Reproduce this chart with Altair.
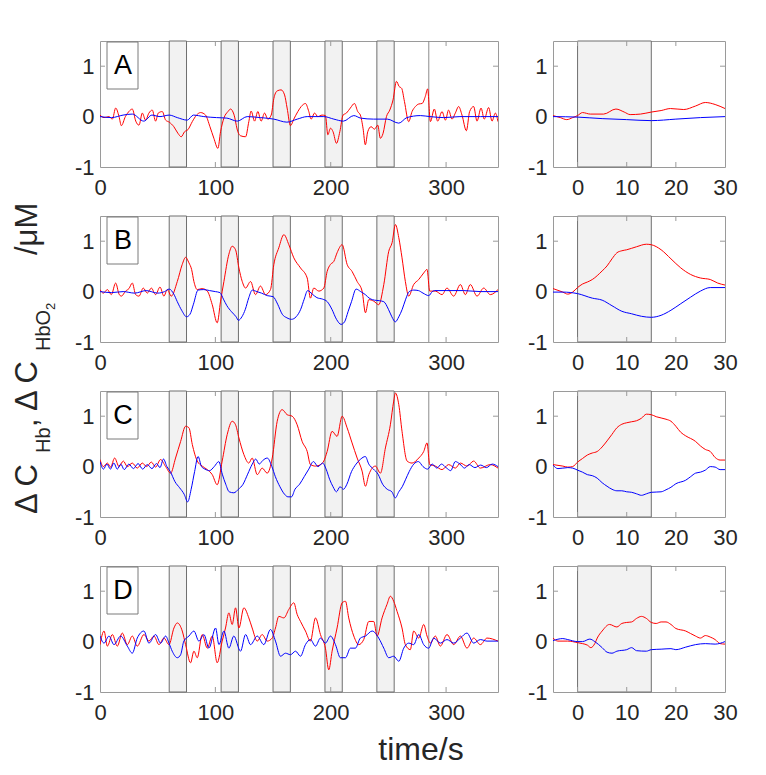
import altair as alt
import pandas as pd

FONT = "Liberation Sans"
LW, RW, H = 398, 172, 126

# ---------------- stimulus blocks / ticks ----------------
block_start = [60, 105, 150, 195, 240]
block_end = [75, 120, 165, 210, 255]
end_line = [285]
avg_block_start = [0]
avg_block_end = [15]
left_xticks = [0, 100, 200, 300]
right_xticks = [0, 10, 20, 30]
yticks = [-1, 0, 1]
left_inner_xticks = [100, 200, 300]
right_inner_xticks = [0, 10, 20]
inner_yticks = [1]
letters = ["A", "B", "C", "D"]

# ---------------- left panels: full time course ----------------
tA_r = [0,3.5,7.8,10.7,13.6,16.5,18.5,22,25,28,31,33.8,36.7,39.5,42.4,45.3,48.2,50.5,54,56.9,
        60,64,67.5,70.4,73.3,76.2,80,83.7,87.2,91.5,95.3,98.7,102.2,104.5,107.4,110.9,113.2,116,119.5,121.8,
        126.2,129,131,134,136.8,139.7,142.6,145.5,148.4,150.7,153.6,157,160,162.2,165.1,168,171.5,174.4,178.1,181,
        183,186,188.8,192.5,195.4,197.5,199.8,202,205,207.9,210.7,213.6,217,220.6,223.4,225.7,228,230,232.1,235,
        237.9,240.8,243,245.4,248.3,251.2,254,257,259.2,261.5,263.9,267.6,270.5,273.4,276.3,279.2,282,284,286.4,289.8,
        292.7,296.5,299.4,302.2,305.1,308,310.9,313.8,317.6,320.4,323.9,326.8,330.3,333.1,336.9,339.8,342.7,345]
vA_r = [0.03,-0.02,0,-0.05,0.17,0,-0.18,0,0.1,0.15,-0.09,-0.17,0.07,-0.07,0.07,0.13,-0.09,0.07,0.1,-0.07,
        -0.11,-0.2,-0.33,-0.4,-0.3,-0.26,-0.1,0.03,0.08,0.03,-0.2,-0.43,-0.63,-0.3,-0.03,0.1,0.15,0.05,-0.3,-0.38,
        -0.4,-0.1,0.11,-0.09,0.1,-0.09,0.07,-0.05,0.03,0.36,0.51,0.53,0.43,0.17,-0.18,-0.05,0.1,0.2,0.26,0.1,
        -0.05,0.07,0,0.03,0.02,-0.36,-0.23,-0.3,-0.53,-0.3,0.03,0.07,0.17,0.26,0.1,0.03,-0.23,-0.56,-0.3,-0.2,
        -0.25,-0.17,-0.43,-0.33,0,0.13,0.33,0.7,0.6,0.56,0.3,-0.1,0.1,0.2,0.25,0.26,0.4,0.55,-0.1,0.15,
        -0.09,0.1,-0.07,0.13,-0.05,0.07,0.2,0.03,-0.28,0.1,0.2,-0.09,0.17,-0.05,0.18,-0.09,0.07,-0.1]
tA_b = [0,10,20,28,38,45,52,60,67,75.6,81,90,101,110,119,127.6,139,150.7,162,171,179.6,194,202.7,211,220,226,
        237,249,259,266,277.7,286,298,312,330,345]
vA_b = [0,-0.02,0.03,0.05,-0.09,0.03,0,0.03,-0.02,-0.07,0.03,0,-0.02,-0.03,-0.09,0,-0.02,-0.05,-0.11,-0.05,0,0,
        -0.05,-0.09,0.02,-0.03,-0.05,-0.05,-0.13,-0.02,0.02,0,-0.02,0,0,0]

tB_r = [0,2.9,6.4,9.8,13.6,16.5,18.5,22.2,25.1,28,30.9,33.8,37.5,41,44.5,48.2,52,55.4,58.3,61.8,
        67,71.3,74.2,77.1,79.4,81.4,84.3,88.6,93,97.3,101.6,104.5,107.4,111.7,114.6,117.5,120.4,123.3,126.2,130.5,
        134.8,139.1,143.5,147.8,150.7,155,159.4,163.7,168,173.8,179.6,182.4,185.3,189.7,194,196.9,199.8,202.7,205.5,209.9,
        214.2,218.5,222.9,227.2,230.1,233,237.3,241.6,246,250.3,253.2,256.1,259,261.8,264.7,267.6,271.9,276.3,280.6,283.5,
        285.8,290.7,296.5,300.8,306.6,312.4,316.7,321,326.8,332.6,338.3,345]
vB_r = [0.04,-0.03,0.04,-0.06,0.17,-0.05,-0.09,0.01,0.06,0.17,-0.06,-0.09,0.07,-0.03,0.07,-0.06,0.09,-0.09,0.04,-0.09,
        0.2,0.54,0.68,0.57,0.44,0.2,0.04,0.06,0.01,-0.26,-0.62,-0.19,0.2,0.74,0.9,0.83,0.47,0.2,0.07,0.2,
        -0.06,0.11,-0.06,0.04,0.54,0.87,1.13,0.93,0.67,0.47,0.27,-0.13,0.07,0.01,0.07,0.4,0.54,0.6,0.77,0.93,
        0.54,0.4,0.2,0.01,-0.42,-0.16,-0.19,-0.26,0.14,0.8,0.97,1.33,1.07,0.67,0.2,-0.09,0.14,0.24,0.37,0.44,
        0.01,0.01,-0.06,0.07,-0.09,0.14,-0.06,0.14,-0.09,0.07,-0.06,0.04]
tB_b = [0,10,20,30,40,50,56,60,64,67,71,75,78,81,85,90,95,100,104,107,110,114,118,120,123,126,129,132,136,140,
        145,150,154,158,162,166,170,174,177,180,184,188,193,197,201,205,209,212,215,218,222,226,230,234,238,242,
        246,250,253,256,259,262,265,268,272,276,280,285,288,290,300,315,330,345]
vB_b = [0.0,-0.02,0.0,-0.03,0.02,-0.03,0.0,0.05,-0.05,-0.2,-0.38,-0.5,-0.45,-0.25,0.03,0.04,0.02,0.0,-0.02,-0.15,
        -0.28,-0.4,-0.5,-0.57,-0.5,-0.35,-0.12,0.03,0.0,-0.03,-0.08,-0.1,-0.25,-0.45,-0.52,-0.55,-0.5,-0.35,-0.15,0.02,
        -0.05,-0.12,-0.15,-0.2,-0.35,-0.55,-0.65,-0.6,-0.4,-0.2,0.05,0.0,-0.06,-0.14,-0.17,-0.18,-0.2,-0.35,-0.5,-0.6,
        -0.5,-0.35,-0.15,0.0,0.03,0.02,-0.03,-0.08,0.0,0.02,0.02,0.02,0.0,0.0]

tC_r = [0,2.9,6.4,9.2,12.7,16.5,20.2,23.7,28,32.3,36.7,40.4,44.5,48.2,52.5,56.9,61.2,65.5,69.9,74.2,
        77.1,80,84.3,88.6,93,97.3,101.6,105.9,110.3,114.6,117.5,120.4,124.7,129,131.9,136.3,140.6,144.9,149.3,153.6,
        157.9,162.2,166.6,170.9,175.2,179.6,182.4,186.8,191.1,194,196.9,201.2,205.5,209.9,214.2,218.5,222.9,227.2,230.1,233,
        238.7,243.1,247.4,251.7,254.6,256.1,259,261.8,266.2,270.5,276.3,280.6,283.5,285.8,290.7,296.5,302.2,308,312.4,318.1,
        323.9,329.7,338.3,345]
vC_r = [0.14,0.0,0.07,-0.01,0.17,0.0,0.11,0.0,0.07,-0.03,0.07,0.0,0.09,-0.01,0.14,0.0,-0.13,0.17,0.5,0.8,
        0.77,0.44,0.11,0.01,-0.06,-0.16,-0.36,0.11,0.64,0.9,0.83,0.57,0.24,0.07,0.17,-0.16,-0.03,-0.13,0.17,0.9,
        1.13,1.03,1.0,0.83,0.5,0.3,0.04,0.01,0.04,0.11,0.3,0.7,0.6,1.0,0.77,0.47,0.17,-0.09,-0.39,-0.16,
        0.01,-0.13,0.37,0.83,1.3,1.46,1.23,0.7,0.11,0.07,0.17,0.3,0.47,0.04,0.01,-0.06,0.04,-0.03,0.07,0.01,
        0.11,-0.03,0.04,-0.03]
tC_b = [0,3,6,9,12,15,18,21,25,29,33,37,41,45,49,52,55,58,61,65,69,73,76,79,82,85,88,91,95,99,
        103,106,109,112,116,120,124,128,132,135,138,141,145,149,152,156,160,163,166,169,
        173,177,181,185,189,193,196,199,202,205,208,211,214,218,222,226,230,233,237,241,
        245,249,253,256,259,262,265,268,272,276,280,284,288,292,296,300,304,308,312,316,320,325,330,335,340,345]
vC_b = [0.1,-0.05,0.05,-0.05,0.07,-0.05,0.05,-0.06,0.05,-0.04,0.06,-0.05,0.04,-0.04,0.06,-0.02,0.15,0.0,-0.1,-0.3,
        -0.42,-0.55,-0.7,-0.45,-0.1,0.2,0.0,-0.05,-0.08,0.0,0.1,-0.15,-0.35,-0.5,-0.52,-0.45,-0.35,-0.15,0.05,0.15,
        0.05,0.12,0.17,0.0,-0.2,-0.4,-0.55,-0.6,-0.6,-0.45,-0.35,-0.2,-0.05,0.1,0.0,0.07,-0.05,-0.25,-0.4,-0.5,
        -0.4,-0.45,-0.35,-0.1,0.05,0.15,0.2,0.05,-0.05,-0.15,-0.35,-0.45,-0.5,-0.62,-0.5,-0.4,-0.25,-0.1,0.05,0.1,
        0.0,-0.05,0.05,-0.03,0.05,-0.02,-0.08,0.1,0.05,-0.03,0.04,-0.02,0.03,-0.02,0.05,0.0]

tD_r = [0,3.5,6.4,10.7,15,19.3,23.7,28,32.3,38.1,42.4,46.8,51.1,55.4,59.8,64.1,67,71.3,74.2,78.5,
        81.4,84.3,88.6,93,97.3,101.6,105.9,108.8,111.7,114.6,117.5,120.4,124.7,129,131.9,136.3,140.6,144.9,149.3,152.1,
        155,159.4,163.7,168,170.9,173.8,178.1,182.4,186.8,191.1,195.4,198.3,201.2,205.5,209.9,212.8,215.6,220,224.3,228.6,
        233,237.3,240.2,244.5,248.8,251.7,254.6,257.5,261.8,264.7,269,271.9,276.3,280.6,283.5,286.4,290.7,295,300.8,306.6,
        312.4,318.1,323.9,329.7,335.5,345]
vD_r = [-0.06,0.21,-0.09,0.14,-0.09,0.17,-0.06,0.11,-0.09,0.14,0.01,0.11,-0.06,0.07,-0.06,0.27,0.37,0.21,-0.06,-0.42,
        -0.19,-0.32,0.14,-0.13,0.11,-0.42,0.01,0.27,0.57,0.34,0.67,0.27,0.67,0.47,0.27,0.01,0.14,0.01,0.07,0.27,
        0.5,0.47,0.64,0.77,0.54,0.4,0.21,0.01,0.47,0.14,-0.13,-0.56,-0.19,0.27,0.77,0.8,0.47,0.11,-0.06,0.04,
        0.4,0.4,0.11,0.47,0.74,0.9,0.8,0.6,0.27,-0.06,-0.16,0.21,0.07,0.34,0.11,-0.03,0.11,-0.09,0.14,-0.06,
        0.11,-0.13,0.07,-0.06,0.07,0.01]
tD_b = [0,3.5,7.8,12.1,17.9,23.7,28,32.3,38.1,42.4,48.2,52.5,56.9,59.8,62.6,67,69.9,72.7,77.1,81.4,
        85.7,90.1,94.4,100.2,103.1,107.4,111.7,116,121.8,126.2,130.5,136.3,142,147.8,152.1,156.5,160.8,165.1,169.5,173.8,
        178.1,182.4,186.8,191.1,195.4,199.8,204.1,208.4,212.8,217.1,221.4,225.7,230.1,235.9,241.6,246,250.3,254.6,259,263.3,
        267.6,271.9,276.3,280.6,284.9,289.3,295,300.8,306.6,312.4,318.1,323.9,329.7,335.5,345]
vD_b = [0.11,-0.03,0.11,-0.06,0.11,-0.09,-0.23,0.07,0.21,-0.03,0.14,-0.03,0.11,-0.03,-0.19,-0.32,-0.26,0.01,0.11,0.21,
        0.01,0.14,-0.13,0.27,-0.06,0.21,-0.13,0.11,-0.19,0.14,-0.06,0.11,-0.06,0.24,0.01,-0.29,-0.23,-0.26,-0.19,-0.29,
        -0.06,0.04,-0.09,0.07,-0.03,0.11,-0.06,-0.32,-0.32,-0.13,-0.13,0.07,0.11,0.21,0.07,-0.13,-0.32,-0.29,-0.39,-0.13,
        -0.03,-0.06,0.14,-0.06,-0.13,0.07,-0.03,0.04,-0.03,0.07,0.17,-0.03,0.04,0.01,0.01]

# ---------------- right panels: block average ----------------
rA_tr = [-5,-3.5,-2.2,-1,0,1,2.6,5.3,7.8,9.5,10.7,12.8,15,17,18.9,21.6,24,26,28,30]
rA_vr = [0.02,-0.02,-0.06,-0.02,0.02,0.08,0.05,0.05,0.15,0.09,0.04,0.05,0.09,0.12,0.16,0.14,0.21,0.28,0.24,0.16]
rA_tb = [-5,0,5,10,15,20,25,30]
rA_vb = [0.0,-0.01,-0.04,-0.06,-0.08,-0.05,-0.02,0.0]

rB_tr = [-5,-3,-2,-1,0,1,2,3,5,6,7,8,9,10,12,14,15,17,19,21,23,25,27,28.5,30]
rB_vr = [0.06,-0.01,-0.05,-0.01,0.08,0.15,0.19,0.24,0.41,0.51,0.65,0.77,0.81,0.83,0.89,0.94,0.93,0.83,0.65,0.47,
         0.34,0.27,0.24,0.17,0.13]
rB_tb = [-5,-3,0,3,5,7,9,11,13,15,17,19,21,23,25,27,30]
rB_vb = [-0.01,-0.01,-0.04,-0.13,-0.17,-0.28,-0.39,-0.44,-0.49,-0.51,-0.47,-0.37,-0.24,-0.11,0.01,0.08,0.08]

rC_tr = [-5,-3,-2,-1,0,1,2,3,4,5,6,7,8,9,10,11,12,13,14,15,16,18,19,20,21,22,24,25,26,27,28,29,30]
rC_vr = [0.04,0.01,-0.01,0.0,0.09,0.16,0.23,0.27,0.3,0.39,0.51,0.64,0.77,0.84,0.87,0.89,0.91,0.96,1.04,1.03,
         0.99,0.94,0.9,0.8,0.68,0.61,0.5,0.41,0.34,0.3,0.18,0.13,0.13]
rC_tb = [-5,-4,-2,-1,0,1,2,3,4,5,6,7,8,9,10,11,12,13,14,15,17,18,19,20,22,23,24,25,26,27,28,29,30]
rC_vb = [0.03,-0.04,-0.02,-0.03,-0.07,-0.11,-0.16,-0.18,-0.23,-0.32,-0.39,-0.45,-0.48,-0.48,-0.5,-0.51,-0.54,-0.57,
         -0.54,-0.51,-0.5,-0.46,-0.41,-0.34,-0.27,-0.2,-0.13,-0.11,-0.07,0.0,-0.01,-0.06,-0.06]

rD_tr = [-5,-4,-2,0,1,2,2.7,3.5,4,5,6.5,8,9,10,11,12,13,14,15,16,17,18,19,20,22,23,24,25,26,27,28,29,30]
rD_vr = [0.07,0.01,0.01,-0.02,-0.04,-0.07,-0.12,-0.04,0.07,0.21,0.34,0.29,0.36,0.38,0.39,0.46,0.5,0.46,0.38,0.36,
         0.39,0.39,0.34,0.26,0.21,0.16,0.11,0.07,0.12,0.09,0.04,-0.04,-0.05]
rD_tb = [-5,-3,-2,0,1,2.5,3.5,5,6,7,8,10,11,12,14,15,17,19,20,22,24,26,28,30]
rD_vb = [0.02,0.06,0.04,0.0,0.0,0.05,0.0,-0.12,-0.21,-0.23,-0.19,-0.16,-0.12,-0.18,-0.19,-0.16,-0.15,-0.14,-0.16,
         -0.11,-0.06,-0.04,-0.05,0.0]

# axis label texts
ylabel_pieces = ["\u0394 C", "Hb", ",", "\u0394 C", "HbO", "2", "/\u03bcM"]
xlabel_text = "time/s"

RED, BLUE = "#ff0000", "#0000ff"
FRAME = "#9a9a9a"


def panel(tr, vr, tb, vb, domain, xvals, inner_x, sh_s, sh_e, width, vline, letter=None, extras=()):
    xs = alt.Scale(domain=domain, nice=False, zero=False)
    ys = alt.Scale(domain=[-1, 1.5], nice=False, zero=False)
    xax = alt.Axis(values=xvals, title=None, labelPadding=10, labelFlush=False, labelExpr="datum.value")
    yax = alt.Axis(values=yticks, title=None, labelPadding=6, labelFlush=False, labelExpr="datum.value")
    layers = []
    layers.append(
        alt.Chart(pd.DataFrame({"s": sh_s, "e": sh_e}))
        .mark_rect(fill="#f2f2f2", stroke="#6e6e6e", strokeWidth=1)
        .encode(x=alt.X("s:Q", scale=xs, axis=xax), x2="e:Q", y=alt.value(0), y2=alt.value(H))
    )
    if vline:
        layers.append(
            alt.Chart(pd.DataFrame({"t": vline}))
            .mark_rule(color="#8c8c8c", strokeWidth=1)
            .encode(x=alt.X("t:Q", scale=xs, axis=xax))
        )
    tick_df = pd.DataFrame({"k": inner_x})
    for y0, y1 in ((0, 5), (H - 5, H)):
        layers.append(
            alt.Chart(tick_df).mark_rule(color=FRAME, strokeWidth=1)
            .encode(x=alt.X("k:Q", scale=xs, axis=xax), y=alt.value(y0), y2=alt.value(y1))
        )
    ytick_df = pd.DataFrame({"k": inner_yticks})
    for x0, x1 in ((0, 5), (width - 5, width)):
        layers.append(
            alt.Chart(ytick_df).mark_rule(color=FRAME, strokeWidth=1)
            .encode(y=alt.Y("k:Q", scale=ys, axis=yax), x=alt.value(x0), x2=alt.value(x1))
        )
    for t, v, c in ((tr, vr, RED), (tb, vb, BLUE)):
        layers.append(
            alt.Chart(pd.DataFrame({"t": t, "v": v}))
            .mark_line(color=c, strokeWidth=1, interpolate="monotone", clip=True)
            .encode(x=alt.X("t:Q", scale=xs, axis=xax), y=alt.Y("v:Q", scale=ys, axis=yax))
        )
    if letter:
        layers.append(
            alt.Chart(pd.DataFrame({"l": [letter]}))
            .mark_rect(fill="white", stroke="#7a7a7a", strokeWidth=1)
            .encode(x=alt.value(7), x2=alt.value(38), y=alt.value(1), y2=alt.value(48))
        )
        layers.append(
            alt.Chart(pd.DataFrame({"l": [letter]}))
            .mark_text(font=FONT, fontSize=27, color="black", align="center", baseline="middle")
            .encode(x=alt.value(23), y=alt.value(25), text="l:N")
        )
    layers.extend(extras)
    return alt.layer(*layers).properties(width=width, height=H)


def label_piece(text, x, y, size, angle=270, align="left"):
    return (
        alt.Chart(pd.DataFrame({"s": [text]}))
        .mark_text(font=FONT, fontSize=size, color="#262626", align=align, baseline="alphabetic", angle=angle)
        .encode(x=alt.value(x), y=alt.value(y), text="s:N")
    )


MF, SF, SSF = 31, 20, 13
extras = [
    label_piece(ylabel_pieces[0], -63, 473, MF),
    label_piece(ylabel_pieces[1], -50, 412, SF),
    label_piece(ylabel_pieces[2], -63, 386, MF),
    label_piece(ylabel_pieces[3], -63, 370, MF),
    label_piece(ylabel_pieces[4], -50, 310, SF),
    label_piece(ylabel_pieces[5], -45, 269, SSF),
    label_piece(ylabel_pieces[6], -63, 214, MF),
    label_piece(xlabel_text, 321, 719, 32, angle=0, align="center"),
]

left_data = [(tA_r, vA_r, tA_b, vA_b), (tB_r, vB_r, tB_b, vB_b), (tC_r, vC_r, tC_b, vC_b), (tD_r, vD_r, tD_b, vD_b)]
right_data = [(rA_tr, rA_vr, rA_tb, rA_vb), (rB_tr, rB_vr, rB_tb, rB_vb), (rC_tr, rC_vr, rC_tb, rC_vb),
              (rD_tr, rD_vr, rD_tb, rD_vb)]

panels = []
for i in range(4):
    panels.append(panel(*left_data[i], [0, 345], left_xticks, left_inner_xticks, block_start, block_end, LW,
                        end_line, letters[i], extras if i == 0 else ()))
    panels.append(panel(*right_data[i], [-5, 30], right_xticks, right_inner_xticks, avg_block_start, avg_block_end,
                        RW, None))

chart = (
    alt.concat(*panels, columns=2, spacing={"row": 49, "column": 55}, bounds="flush")
    .properties(padding={"left": 3, "top": 32, "right": 5, "bottom": 0})
    .configure_view(stroke=FRAME, strokeWidth=1)
    .configure_axis(grid=False, domain=False, ticks=False, labelFont=FONT, labelFontSize=22,
                    labelColor="#262626")
)

chart.save("out.html", embed_options={"renderer": "svg", "actions": False})
